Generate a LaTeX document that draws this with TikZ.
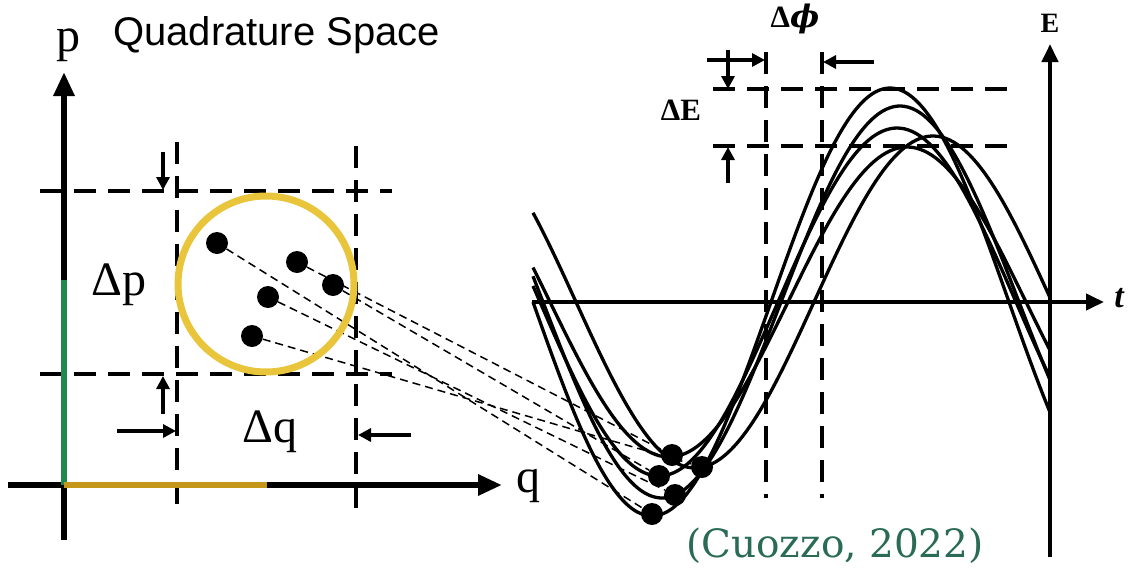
\documentclass[tikz,border=0pt]{standalone}
\usepackage{fontspec}
\setmainfont{Liberation Serif}
\newfontfamily\sansf{Liberation Sans}
\newfontfamily\citef{DejaVu Serif}
\usetikzlibrary{arrows.meta}
\definecolor{pgreen}{HTML}{1F8A4C}
\definecolor{qgold}{HTML}{C4961A}
\definecolor{ring}{HTML}{E8C53A}
\definecolor{citec}{HTML}{2A6B57}
\begin{document}
\begin{tikzpicture}[x=1pt,y=-1pt,
  axisline/.style={line width=6pt,-{Triangle[length=24pt,width=20pt]}},
  guide/.style={line width=3.2pt,dash pattern=on 22pt off 12pt},
  link/.style={line width=1.5pt,dash pattern=on 8pt off 5pt},
  dimarrow/.style={line width=4pt,-{Triangle[length=13pt,width=13pt]}},
  wave/.style={line width=3.3pt},
  dot/.style={circle,fill=black,inner sep=0pt,minimum size=22pt},
  serlabel/.style={font=\fontsize{48}{52}\selectfont,inner sep=0pt},
  boldlabel/.style={font=\fontsize{31}{35}\selectfont\bfseries,inner sep=0pt}]
\useasboundingbox (0,0) rectangle (1135,573);

% ---------- left: quadrature space ----------
\coordinate (pbot) at (64,540);
\coordinate (ptop) at (64,72);
\coordinate (qleft) at (8,485);
\coordinate (qright) at (502,485);
\coordinate (O) at (64,485);
\coordinate (pg) at (64,280);
\coordinate (qg) at (267,485);

% dashed guides
\draw[guide] (40,191) -- (392,191);
\draw[guide] (40,374) -- (392,374);
\draw[guide] (177,142) -- (177,512);
\draw[guide] (356,146) -- (356,516);

\draw[axisline] (pbot) -- (ptop);
\draw[axisline] (qleft) -- (qright);
\draw[line width=6pt,pgreen] (O) -- (pg);
\draw[line width=6pt,qgold] (O) -- (qg);

\node[serlabel] (plab) at (68,45) {p};
\node[serlabel] (qlab) at (528,486) {q};
\node[font=\sansf\fontsize{40}{44}\selectfont,inner sep=0pt,anchor=base west] (title) at (113,45) {Quadrature Space};

% dimension arrows
\coordinate (dpa1) at (163,152); \coordinate (dpa2) at (163,190);
\coordinate (dpb1) at (163,414); \coordinate (dpb2) at (163,376);
\coordinate (dqa1) at (117,431); \coordinate (dqa2) at (176,431);
\coordinate (dqb1) at (411,435); \coordinate (dqb2) at (358,435);
\draw[dimarrow] (dpa1) -- (dpa2);
\draw[dimarrow] (dpb1) -- (dpb2);
\draw[dimarrow] (dqa1) -- (dqa2);
\draw[dimarrow] (dqb1) -- (dqb2);
\node[serlabel] (dp) at (119,285) {Δp};
\node[serlabel] (dq) at (270,432) {Δq};

% ---------- right: waves ----------
\coordinate (tleft) at (532,302);
\coordinate (tright) at (1104,302);
\coordinate (Ebot) at (1050,557);
\coordinate (Etop) at (1050,44);

\draw[guide] (713,89) -- (1018,89);
\draw[guide] (713,146) -- (1018,146);
\draw[guide] (766,52) -- (766,498);
\draw[guide] (822,52) -- (822,498);

\foreach \xp/\A in {890/214,900/196,897/174,933/166,907/155}
  \draw[wave] plot[domain=533:1050,samples=140,smooth] (\x,{302-\A*cos(0.7563*(\x-\xp))});

\draw[line width=4.2pt,-{Triangle[length=18pt,width=16pt]}] (tleft) -- (tright);
\draw[line width=4.2pt,-{Triangle[length=18pt,width=16pt]}] (Ebot) -- (Etop);

\node[font=\fontsize{34}{38}\selectfont\bfseries\itshape,inner sep=0pt] (tlab) at (1119,298) {t};
\node[boldlabel,font=\fontsize{28}{32}\selectfont\bfseries] (Elab) at (1050,23) {E};
\node[boldlabel] (dE) at (681,110) {ΔE};
\node[boldlabel] (dphi) at (795,19) {Δ{\citef\bfseries\itshape ϕ}};

\coordinate (dEa1) at (728,50); \coordinate (dEa2) at (728,89);
\coordinate (dEb1) at (728,183); \coordinate (dEb2) at (728,147);
\coordinate (dfa1) at (707,60); \coordinate (dfa2) at (765,60);
\coordinate (dfb1) at (874,62); \coordinate (dfb2) at (823,62);
\draw[dimarrow] (dEa1) -- (dEa2);
\draw[dimarrow] (dEb1) -- (dEb2);
\draw[dimarrow] (dfa1) -- (dfa2);
\draw[dimarrow] (dfb1) -- (dfb2);

% ---------- dots and links ----------
\node[dot] (d1) at (217,243) {};
\node[dot] (d2) at (297,262) {};
\node[dot] (d3) at (333,285) {};
\node[dot] (d4) at (268,297) {};
\node[dot] (d5) at (252,336) {};
\node[dot] (w1) at (672,455) {};
\node[dot] (w2) at (702,467) {};
\node[dot] (w3) at (659,476) {};
\node[dot] (w4) at (675,495) {};
\node[dot] (w5) at (652,514) {};

\draw[link] (d1) -- (w5);
\draw[link] (d2) -- (w1);
\draw[link] (d3) -- (w3);
\draw[link] (d4) -- (w4);
\draw[link] (d5) -- (w2);

\draw[ring,line width=7pt] (266,284) circle[radius=88];

\node[font=\citef\fontsize{39}{42}\selectfont,text=citec,inner sep=0pt] (cite) at (835,546) {(Cuozzo, 2022)};
\end{tikzpicture}
\end{document}
